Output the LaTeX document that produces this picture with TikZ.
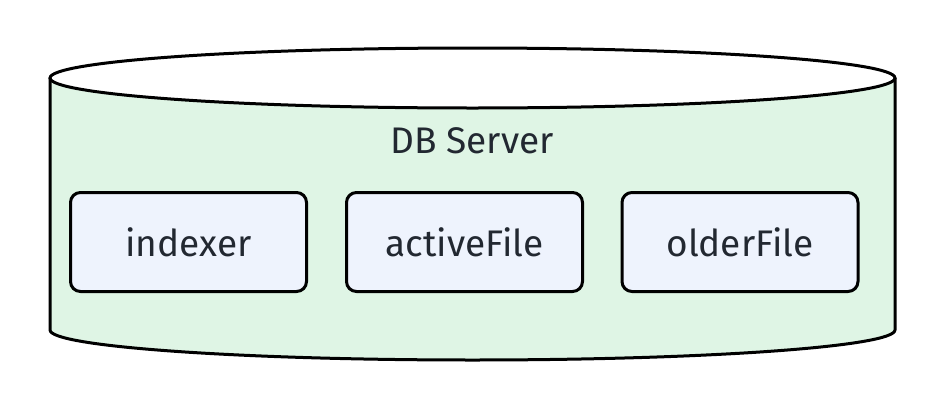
\documentclass[tikz,border=0pt]{standalone}
\usepackage{fontspec}
\setmainfont{Fira Sans}
\definecolor{cylfill}{HTML}{DFF5E5}
\definecolor{boxfill}{HTML}{EEF3FD}
\definecolor{txt}{HTML}{222831}
\begin{document}
\begin{tikzpicture}[x=1pt,y=-1pt,
  lbl/.style={text=txt,font=\fontsize{37}{44}\selectfont},
  comp/.style={lbl,draw=black,line width=3pt,fill=boxfill,rounded corners=10pt,
    minimum width=236pt,minimum height=99pt},
  cylline/.style={draw=black,line width=3pt}]
\useasboundingbox (0,0) rectangle (946,410);
% cylinder body
\fill[cylfill] (50,78) -- (50,330) arc[start angle=180,end angle=0,x radius=422.5,y radius=30] -- (895,78) arc[start angle=0,end angle=180,x radius=422.5,y radius=30] -- cycle;
\draw[cylline,line join=round] (50,78) -- (50,330) arc[start angle=180,end angle=0,x radius=422.5,y radius=30] -- (895,78);
\draw[cylline] (472.5,78) ellipse[x radius=422.5,y radius=30];
\node[lbl] (title) at (472,141) {DB Server};
\node[comp] (indexer) at (188.5,242) {indexer};
\node[comp] (active) at (464.5,242) {activeFile};
\node[comp] (older) at (740,242) {olderFile};
\end{tikzpicture}
\end{document}
